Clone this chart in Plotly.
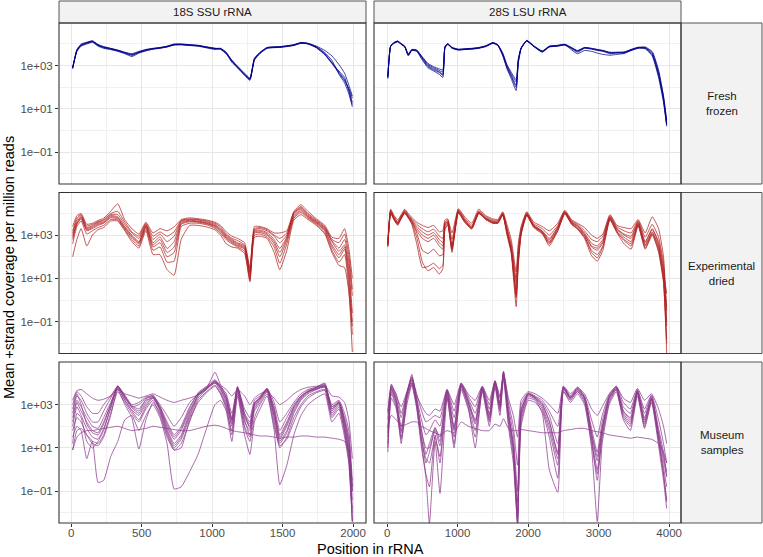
import numpy as np
import plotly.graph_objects as go

# ---------------- data (log10 of mean +strand coverage per million reads) ----------------
x_18s = [10, 40, 70, 110, 150, 190, 230, 280, 330, 380, 430, 480, 530, 580, 630, 680, 730, 780, 840, 900,
         960, 1020, 1060, 1100, 1140, 1180, 1230, 1268, 1300, 1340, 1390, 1440, 1480, 1530, 1580, 1630, 1680,
         1740, 1800, 1850, 1900, 1940, 1970, 1995]
x_28s = [10, 50, 100, 150, 200, 250, 300, 350, 420, 500, 580, 660, 740, 790, 820, 860, 920, 1010, 1100, 1200,
         1300, 1400, 1500, 1570, 1640, 1700, 1760, 1830, 1860, 1900, 1980, 2080, 2200, 2300, 2420, 2520, 2620,
         2700, 2800, 2900, 2980, 3060, 3160, 3260, 3360, 3460, 3560, 3660, 3760, 3850, 3920, 3965]
x_28s_museum = [10, 60, 130, 200, 280, 350, 420, 480, 550, 600, 680, 750, 850, 950, 1050, 1150, 1250, 1350,
                1450, 1530, 1600, 1650, 1720, 1790, 1850, 1900, 2000, 2100, 2200, 2300, 2420, 2500, 2600, 2700,
                2800, 2900, 2980, 3050, 3150, 3250, 3350, 3450, 3550, 3650, 3750, 3850, 3920, 3965]

fresh_18s = [
    [2.9, 3.7, 3.95, 4.05, 4.12, 3.95, 3.85, 3.78, 3.7, 3.6, 3.5, 3.62, 3.72, 3.78, 3.82, 3.88, 3.97, 3.98, 3.95, 3.92, 3.85, 3.8, 3.75, 3.55, 3.25, 2.9, 2.6, 2.38, 3.3, 3.6, 3.82, 3.85, 3.86, 3.9, 3.95, 4.05, 4.02, 3.85, 3.55, 3.15, 2.7, 2.35, 1.9, 1.3],
    [2.85, 3.75, 4.0, 4.08, 4.15, 3.98, 3.88, 3.8, 3.72, 3.62, 3.55, 3.66, 3.75, 3.8, 3.84, 3.9, 4.0, 4.0, 3.97, 3.94, 3.87, 3.8, 3.78, 3.58, 3.25, 2.98, 2.65, 2.42, 3.35, 3.62, 3.84, 3.87, 3.88, 3.92, 3.97, 4.07, 4.03, 3.88, 3.6, 3.25, 2.6, 2.2, 1.7, 1.1],
    [2.95, 3.65, 3.9, 4.0, 4.08, 3.9, 3.8, 3.74, 3.66, 3.55, 3.42, 3.58, 3.68, 3.76, 3.8, 3.86, 3.95, 3.96, 3.93, 3.9, 3.82, 3.75, 3.76, 3.55, 3.15, 2.9, 2.55, 2.32, 3.25, 3.56, 3.8, 3.83, 3.84, 3.88, 3.93, 4.03, 4.0, 3.82, 3.5, 3.1, 2.65, 2.3, 1.95, 1.5],
    [2.9, 3.72, 3.96, 4.06, 4.13, 3.96, 3.86, 3.79, 3.71, 3.6, 3.52, 3.63, 3.73, 3.79, 3.83, 3.89, 3.98, 3.99, 3.96, 3.93, 3.86, 3.79, 3.8, 3.62, 3.22, 2.96, 2.6, 2.4, 3.3, 3.6, 3.83, 3.86, 3.87, 3.91, 3.96, 4.06, 4.03, 3.9, 3.7, 3.45, 3.05, 2.65, 2.1, 1.6],
    [2.88, 3.68, 3.93, 4.03, 4.1, 3.93, 3.83, 3.76, 3.68, 3.58, 3.47, 3.6, 3.7, 3.77, 3.81, 3.87, 3.96, 3.97, 3.94, 3.91, 3.84, 3.77, 3.79, 3.6, 3.18, 2.93, 2.58, 2.36, 3.28, 3.58, 3.81, 3.84, 3.85, 3.89, 3.94, 4.04, 4.01, 3.84, 3.52, 3.12, 2.75, 2.45, 1.8, 1.2],
]
fresh_28s = [
    [2.45, 3.9, 4.05, 4.12, 4.0, 3.88, 3.5, 3.72, 3.7, 3.35, 3.0, 2.85, 2.72, 2.6, 3.85, 4.0, 3.82, 3.74, 3.76, 3.78, 3.82, 3.9, 4.05, 3.95, 3.5, 2.95, 2.55, 2.1, 3.2, 3.8, 4.15, 3.9, 3.65, 3.88, 3.92, 3.97, 3.8, 3.66, 3.82, 3.78, 3.72, 3.68, 3.58, 3.6, 3.6, 3.72, 3.82, 3.8, 3.5, 2.55, 1.45, 0.3],
    [2.5, 3.92, 4.08, 4.14, 4.02, 3.9, 3.55, 3.75, 3.72, 3.4, 3.1, 2.95, 2.85, 2.8, 3.88, 4.02, 3.85, 3.76, 3.78, 3.8, 3.84, 3.92, 4.07, 3.97, 3.58, 3.05, 2.7, 2.35, 3.3, 3.82, 4.17, 3.92, 3.68, 3.9, 3.94, 3.99, 3.83, 3.7, 3.84, 3.8, 3.75, 3.7, 3.62, 3.62, 3.63, 3.75, 3.85, 3.84, 3.6, 2.7, 1.6, 0.5],
    [2.4, 3.88, 4.03, 4.1, 3.98, 3.86, 3.45, 3.7, 3.66, 3.25, 2.9, 2.75, 2.6, 2.45, 3.8, 3.98, 3.8, 3.72, 3.74, 3.76, 3.8, 3.88, 4.03, 3.93, 3.45, 2.85, 2.4, 1.85, 3.1, 3.78, 4.13, 3.88, 3.62, 3.86, 3.9, 3.95, 3.78, 3.62, 3.8, 3.76, 3.7, 3.66, 3.55, 3.58, 3.58, 3.7, 3.8, 3.78, 3.45, 2.45, 1.3, 0.2],
    [2.45, 3.9, 4.05, 4.11, 4.0, 3.87, 3.48, 3.71, 3.68, 3.3, 2.95, 2.8, 2.68, 2.55, 3.84, 3.99, 3.82, 3.73, 3.75, 3.77, 3.81, 3.89, 4.04, 3.94, 3.5, 2.9, 2.5, 2.0, 3.15, 3.79, 4.14, 3.89, 3.64, 3.87, 3.91, 3.96, 3.72, 3.55, 3.7, 3.66, 3.58, 3.52, 3.48, 3.52, 3.56, 3.7, 3.82, 3.86, 3.65, 2.8, 1.55, 0.35],
    [2.5, 3.91, 4.06, 4.13, 4.01, 3.89, 3.52, 3.73, 3.71, 3.38, 3.05, 2.9, 2.78, 2.7, 3.86, 4.01, 3.83, 3.75, 3.77, 3.79, 3.83, 3.91, 4.06, 3.96, 3.55, 3.0, 2.62, 2.25, 3.25, 3.81, 4.16, 3.91, 3.66, 3.89, 3.93, 3.98, 3.82, 3.68, 3.83, 3.79, 3.74, 3.7, 3.6, 3.61, 3.62, 3.74, 3.84, 3.82, 3.55, 2.6, 1.4, 0.25],
]
dried_18s = [
    [3.4, 3.9, 4.0, 3.5, 3.55, 3.68, 3.78, 4.1, 4.45, 3.7, 3.3, 3.05, 3.6, 3.1, 3.3, 3.2, 3.38, 3.72, 3.8, 3.76, 3.7, 3.6, 3.45, 3.15, 2.95, 2.85, 2.65, 1.5, 3.4, 3.4, 3.3, 3.1, 3.1, 3.2, 4.1, 4.4, 4.1, 3.75, 3.45, 2.9, 2.85, 3.3, 2.4, 1.0],
    [3.1, 3.7, 3.9, 3.35, 3.45, 3.6, 3.68, 3.95, 3.95, 3.5, 3.1, 2.85, 3.5, 2.8, 3.05, 2.7, 2.95, 3.65, 3.72, 3.7, 3.62, 3.5, 3.3, 3.0, 2.8, 2.65, 2.5, 1.3, 3.25, 3.3, 3.2, 2.95, 2.65, 3.0, 4.0, 4.28, 3.95, 3.65, 3.35, 2.75, 2.4, 2.8, 1.8, 0.2],
    [3.0, 3.6, 3.85, 3.3, 3.4, 3.55, 3.62, 3.9, 3.85, 3.4, 3.0, 2.7, 3.46, 2.65, 2.92, 2.38, 2.7, 3.6, 3.69, 3.65, 3.58, 3.45, 3.25, 2.95, 2.75, 2.6, 2.45, 1.23, 3.2, 3.23, 3.12, 2.8, 2.38, 2.92, 4.0, 4.23, 3.9, 3.62, 3.3, 2.7, 2.25, 2.55, 1.5, -0.6],
    [2.9, 3.55, 3.8, 3.25, 3.35, 3.5, 3.58, 3.85, 3.8, 3.35, 2.95, 2.65, 3.42, 2.55, 2.8, 2.2, 2.45, 3.55, 3.65, 3.62, 3.55, 3.42, 3.2, 2.9, 2.7, 2.55, 2.4, 1.1, 3.15, 3.18, 3.06, 2.7, 2.2, 2.85, 3.9, 4.18, 3.86, 3.58, 3.25, 2.55, 2.1, 2.45, 1.2, -1.0],
    [2.8, 3.5, 3.75, 3.2, 3.3, 3.45, 3.55, 3.8, 3.75, 3.3, 2.9, 2.6, 3.38, 2.45, 2.65, 2.0, 2.2, 3.5, 3.62, 3.6, 3.52, 3.38, 3.15, 2.85, 2.65, 2.5, 2.35, 1.0, 3.1, 3.12, 3.0, 2.6, 2.0, 2.75, 3.85, 4.12, 3.82, 3.55, 3.2, 2.45, 1.95, 2.35, 0.9, -1.6],
    [2.6, 3.4, 3.65, 3.05, 3.2, 3.35, 3.45, 3.72, 3.7, 3.25, 2.8, 2.5, 3.3, 2.3, 2.45, 1.75, 1.8, 3.4, 3.55, 3.55, 3.48, 3.32, 3.08, 2.78, 2.6, 2.45, 2.25, 0.9, 3.0, 3.05, 2.92, 2.45, 1.7, 2.6, 3.78, 4.05, 3.78, 3.5, 3.12, 2.3, 1.75, 2.1, 0.5, -2.4],
    [2.0, 2.8, 3.3, 2.5, 3.0, 3.25, 3.35, 3.65, 3.65, 3.2, 2.7, 2.4, 3.2, 2.1, 2.1, 1.4, 1.15, 2.8, 3.45, 3.45, 3.38, 3.25, 3.0, 2.6, 2.45, 2.4, 2.15, 0.85, 2.9, 2.95, 2.85, 2.2, 1.4, 2.3, 3.7, 3.95, 3.72, 3.45, 3.05, 2.2, 1.6, 1.5, 0.4, -1.2],
    [3.2, 3.8, 3.95, 3.42, 3.5, 3.62, 3.72, 4.0, 4.1, 3.6, 3.15, 2.95, 3.55, 2.95, 3.15, 2.95, 3.15, 3.68, 3.75, 3.72, 3.66, 3.55, 3.38, 3.05, 2.85, 2.75, 2.55, 1.4, 3.3, 3.35, 3.25, 3.0, 2.85, 3.1, 4.05, 4.32, 4.0, 3.7, 3.38, 2.8, 2.65, 3.05, 2.1, 0.5],
]
dried_28s = [
    [2.7, 4.2, 3.9, 3.7, 3.95, 4.2, 4.0, 3.82, 3.6, 3.45, 3.35, 3.45, 3.15, 3.2, 3.7, 3.75, 3.1, 4.22, 3.85, 3.55, 4.2, 3.9, 3.75, 3.72, 4.08, 3.5, 2.8, 1.3, 2.6, 3.4, 4.08, 3.6, 3.4, 3.2, 3.55, 4.15, 3.7, 3.55, 3.35, 3.0, 2.85, 3.05, 3.95, 3.45, 3.35, 3.3, 3.72, 3.1, 3.85, 3.3, 2.0, -0.5],
    [2.6, 4.15, 3.85, 3.62, 3.9, 4.15, 3.95, 3.75, 3.5, 3.3, 3.15, 3.28, 2.95, 2.85, 3.6, 3.7, 2.8, 4.18, 3.78, 3.45, 4.12, 3.85, 3.7, 3.67, 4.04, 3.35, 2.6, 1.0, 2.4, 3.3, 4.04, 3.52, 3.3, 3.0, 3.45, 4.1, 3.65, 3.5, 3.2, 2.8, 2.7, 2.95, 3.9, 3.38, 3.2, 3.1, 3.67, 2.9, 3.5, 2.9, 1.7, -1.2],
    [2.55, 4.1, 3.8, 3.55, 3.85, 4.1, 3.9, 3.7, 3.4, 3.15, 3.0, 3.12, 2.8, 2.65, 3.5, 3.65, 2.5, 4.15, 3.7, 3.38, 4.08, 3.8, 3.65, 3.62, 4.0, 3.2, 2.4, 0.5, 2.0, 3.2, 4.0, 3.45, 3.2, 2.85, 3.38, 4.08, 3.6, 3.45, 3.1, 2.62, 2.5, 2.8, 3.85, 3.3, 3.05, 2.95, 3.62, 2.7, 3.3, 2.6, 1.3, 0.3],
    [2.5, 4.05, 3.75, 3.5, 3.8, 4.05, 3.85, 3.65, 3.3, 3.0, 2.85, 3.0, 2.65, 2.5, 3.45, 3.6, 2.35, 4.1, 3.65, 3.32, 4.04, 3.76, 3.6, 3.58, 3.96, 3.1, 2.3, 0.2, 1.8, 3.1, 3.95, 3.4, 3.12, 2.7, 3.3, 4.05, 3.55, 3.38, 3.0, 2.45, 2.3, 2.65, 3.8, 3.22, 2.9, 2.7, 3.55, 2.55, 3.15, 2.4, 1.1, -0.3],
    [2.45, 4.0, 3.7, 3.45, 3.75, 4.0, 3.8, 3.6, 3.2, 2.85, 2.7, 2.85, 2.5, 2.35, 3.4, 3.55, 2.2, 4.05, 3.6, 3.28, 4.0, 3.72, 3.55, 3.55, 3.92, 3.0, 2.15, -0.3, 1.6, 3.0, 3.9, 3.35, 3.05, 2.6, 3.2, 4.0, 3.5, 3.3, 2.9, 2.3, 2.1, 2.5, 3.75, 3.15, 2.75, 2.5, 3.48, 2.4, 3.05, 2.2, 0.8, -2.0],
    [2.5, 4.0, 3.7, 3.5, 3.78, 4.02, 3.8, 3.5, 2.6, 1.5, 1.55, 1.7, 1.45, 1.6, 3.3, 3.45, 2.3, 4.02, 3.6, 3.3, 4.0, 3.72, 3.55, 3.55, 3.92, 3.1, 2.25, 0.1, 1.7, 3.05, 3.92, 3.38, 3.1, 2.5, 3.2, 3.98, 3.48, 3.28, 2.85, 2.05, 1.8, 2.3, 3.7, 3.1, 2.6, 2.35, 3.42, 2.35, 3.0, 2.3, 0.9, -2.47],
    [2.55, 4.05, 3.72, 3.52, 3.82, 4.05, 3.82, 3.55, 2.9, 1.75, 1.35, 1.5, 1.2, 1.45, 3.25, 3.5, 2.4, 4.05, 3.65, 3.32, 4.02, 3.75, 3.58, 3.58, 3.95, 3.15, 2.3, 0.3, 1.9, 3.1, 3.95, 3.42, 3.15, 2.65, 3.25, 4.02, 3.52, 3.32, 2.95, 2.2, 1.95, 2.45, 3.75, 3.15, 2.8, 2.6, 3.5, 2.5, 3.1, 2.5, 1.0, -1.8],
    [2.6, 4.1, 3.78, 3.58, 3.88, 4.1, 3.88, 3.65, 3.1, 2.3, 2.15, 2.35, 2.05, 2.1, 3.55, 3.6, 2.55, 4.1, 3.72, 3.36, 4.06, 3.78, 3.62, 3.6, 3.98, 3.25, 2.45, 0.8, 2.2, 3.15, 3.98, 3.45, 3.18, 2.78, 3.35, 4.05, 3.58, 3.42, 3.05, 2.5, 2.4, 2.7, 3.82, 3.28, 3.0, 2.85, 3.58, 2.65, 3.25, 2.7, 1.5, -1.0],
]
museum_18s = [
    [3.2, 3.65, 3.7, 3.5, 3.3, 3.2, 3.25, 3.4, 3.7, 3.5, 3.4, 3.3, 3.4, 3.5, 3.35, 3.2, 3.1, 3.2, 3.3, 3.45, 3.7, 4.1, 3.9, 3.7, 3.4, 3.7, 3.4, 3.0, 3.3, 3.5, 3.6, 3.3, 3.0, 3.2, 3.5, 3.7, 3.8, 3.85, 3.9, 3.4, 3.35, 3.1, 2.3, 0.5],
    [2.6, 3.4, 3.2, 2.6, 2.2, 2.2, 2.7, 3.3, 3.85, 3.4, 2.9, 3.0, 3.3, 3.35, 2.9, 2.2, 1.6, 2.0, 2.9, 3.5, 3.75, 4.0, 3.8, 3.4, 2.4, 3.75, 2.6, 2.2, 3.1, 3.3, 3.7, 2.9, 1.8, 2.4, 3.0, 3.4, 3.6, 3.75, 3.8, 2.9, 3.1, 2.4, 1.5, -1.0],
    [2.2, 3.1, 2.7, 2.2, 1.8, 1.7, 2.2, 3.0, 3.88, 3.3, 2.85, 2.6, 3.1, 3.4, 2.8, 1.9, 1.2, 1.6, 2.6, 3.45, 3.8, 4.05, 3.7, 3.2, 2.2, 3.8, 2.4, 2.0, 3.0, 3.3, 3.72, 2.6, 1.4, 2.0, 2.8, 3.3, 3.6, 3.75, 3.85, 2.7, 3.1, 2.1, 1.0, -1.4],
    [2.0, 2.9, 2.5, 1.9, 1.5, 1.4, 1.9, 2.8, 3.8, 3.2, 2.7, 2.3, 2.9, 3.3, 2.7, 1.7, 1.0, 1.4, 2.4, 3.3, 3.7, 4.0, 3.6, 3.0, 2.0, 3.7, 2.2, 1.8, 2.8, 3.2, 3.65, 2.4, 1.2, 1.7, 2.6, 3.2, 3.5, 3.7, 3.8, 2.6, 3.0, 1.9, 0.8, -2.4],
    [1.5, 2.0, 1.8, 0.5, 1.3, 1.2, 1.6, 2.6, 3.6, 3.1, 2.6, 2.2, 2.8, 3.2, 2.5, 1.5, 0.9, 1.2, 2.2, 3.2, 3.6, 3.9, 3.5, 2.8, 1.8, 3.6, 2.0, 1.5, 2.7, 3.1, 3.6, 2.2, 1.0, 1.5, 2.4, 3.0, 3.4, 3.6, 3.7, 2.5, 2.9, 1.8, 0.6, -1.8],
    [0.9, 1.8, 1.9, 1.6, 1.3, -0.6, -0.5, 0.6, 1.3, 2.3, 2.5, 1.8, 2.5, 3.0, 2.4, 1.2, -0.9, -0.8, -0.1, 0.7, 1.9, 3.0, 3.2, 2.7, 1.3, 3.4, 1.6, 0.7, 2.2, 2.8, 3.4, 1.8, -0.7, 0.2, 1.6, 2.5, 3.0, 3.3, 3.5, 2.2, 2.6, 1.5, 0.3, -2.4],
    [0.9, 1.5, 1.7, 1.8, 1.8, 1.85, 1.9, 1.95, 2.0, 1.9, 1.8, 1.85, 1.9, 2.0, 1.95, 1.9, 1.85, 1.8, 1.8, 1.9, 2.0, 2.05, 2.0, 1.9, 1.8, 1.75, 1.7, 1.65, 1.6, 1.55, 1.55, 1.5, 1.45, 1.5, 1.5, 1.55, 1.55, 1.5, 1.5, 1.45, 1.4, 1.3, 0.9, -0.8],
    [1.8, 2.4, 2.2, 1.6, 1.2, 1.1, 1.5, 2.5, 3.7, 3.0, 2.4, 0.95, 2.3, 3.1, 2.6, 1.6, 0.9, 1.0, 2.3, 3.1, 3.55, 3.85, 3.5, 2.9, 1.6, 3.5, 1.9, 1.3, 2.4, 3.0, 3.5, 2.0, 1.1, 1.4, 2.2, 2.9, 3.3, 3.55, 3.65, 2.4, 2.8, 1.7, 0.4, -2.4],
    [3.0, 3.6, 3.4, 2.9, 2.6, 2.6, 3.0, 3.4, 3.85, 3.45, 3.0, 3.1, 3.35, 3.4, 3.0, 2.5, 2.0, 2.4, 3.1, 3.5, 3.8, 4.05, 3.85, 3.5, 2.6, 3.8, 2.8, 2.4, 3.2, 3.4, 3.75, 3.1, 2.2, 2.6, 3.1, 3.5, 3.7, 3.8, 3.85, 3.0, 3.2, 2.6, 1.8, -0.5],
    [2.4, 3.2, 2.9, 2.4, 2.0, 1.9, 2.4, 3.1, 3.8, 3.35, 2.9, 2.7, 3.2, 3.3, 2.85, 2.0, 1.4, 1.8, 2.7, 3.4, 3.75, 4.5, 3.9, 3.3, 2.3, 3.75, 2.5, 2.1, 3.0, 3.3, 3.7, 2.7, 1.6, 2.2, 2.9, 3.35, 3.6, 3.7, 3.9, 2.8, 3.1, 2.2, 1.2, -1.0],
    [1.2, 2.6, 2.4, 1.3, 1.0, 1.3, 1.8, 2.9, 3.75, 3.2, 2.75, 2.5, 3.0, 3.35, 2.75, 1.8, 1.1, 1.5, 2.5, 3.4, 3.75, 4.1, 3.75, 3.1, 2.1, 3.7, 2.3, 1.6, 2.9, 3.25, 3.7, 2.5, 1.3, 1.8, 2.7, 3.25, 3.55, 3.8, 4.0, 2.8, 3.05, 2.0, 0.7, -2.0],
    [2.8, 3.5, 3.0, 2.1, 1.7, 1.6, 2.1, 3.0, 3.85, 3.35, 2.95, 2.8, 3.25, 3.45, 2.9, 2.1, 1.5, 1.9, 2.8, 3.55, 3.85, 4.15, 3.8, 3.3, 2.3, 3.85, 2.6, 1.9, 3.05, 3.35, 3.75, 2.8, 1.5, 2.1, 2.9, 3.4, 3.65, 3.8, 3.95, 2.9, 3.15, 2.3, 1.3, -0.8],
]
museum_28s = [
    [2.6, 3.95, 3.4, 2.9, 3.6, 4.3, 3.4, 3.0, 2.6, 2.5, 2.8, 2.7, 3.7, 3.0, 4.0, 3.5, 3.2, 3.85, 3.2, 4.1, 3.4, 4.5, 3.3, 2.5, 1.5, 3.2, 3.6, 3.5, 3.3, 3.0, 2.6, 3.85, 3.5, 3.8, 3.5, 2.8, 2.5, 2.9, 3.5, 3.85, 3.3, 3.1, 3.75, 3.2, 3.5, 2.8, 2.0, 1.2],
    [2.3, 3.9, 3.3, 2.4, 3.5, 4.2, 3.3, 2.4, 1.6, 1.8, 2.3, 2.0, 3.65, 2.4, 3.95, 3.3, 2.6, 3.8, 2.8, 4.05, 3.1, 4.4, 2.9, 1.6, -1.0, 2.8, 3.5, 3.35, 3.1, 2.5, 1.2, 3.8, 3.35, 3.75, 3.35, 1.9, 0.8, 2.2, 3.4, 3.8, 2.9, 2.6, 3.65, 2.6, 3.4, 1.9, 0.8, -0.3],
    [1.9, 3.8, 3.2, 2.0, 3.5, 4.15, 3.2, 2.0, 0.7, 1.2, 1.95, 1.3, 3.65, 2.0, 3.95, 3.2, 2.3, 3.8, 2.6, 4.1, 3.0, 4.45, 2.7, 1.2, -1.9, 2.7, 3.5, 3.34, 3.03, 2.26, 0.7, 3.8, 3.34, 3.72, 3.34, 1.65, 0.4, 1.95, 3.34, 3.8, 2.72, 2.4, 3.65, 2.4, 3.34, 1.65, 0.4, -0.35],
    [1.5, 3.7, 3.1, 1.7, 3.4, 4.1, 3.1, 1.7, 0.3, 0.8, 1.8, 1.1, 3.6, 1.8, 3.9, 3.1, 2.1, 3.75, 2.4, 4.0, 2.9, 4.4, 2.5, 1.0, -2.5, 2.5, 3.45, 3.3, 2.9, 2.0, 0.5, 3.75, 3.3, 3.7, 3.25, 1.5, 0.0, 1.8, 3.3, 3.75, 2.6, 2.2, 3.6, 2.2, 3.3, 1.5, 0.1, -0.8],
    [0.8, 3.3, 2.8, 1.4, 3.0, 3.9, 2.8, 1.2, -0.35, -2.5, 1.3, -1.1, 3.3, 1.2, 3.7, 2.8, 1.5, 3.6, 2.0, 3.8, 2.5, 4.2, 2.0, 0.3, -2.5, 2.0, 3.2, 3.1, 2.7, 1.5, -0.4, 3.6, 3.1, 3.5, 3.0, 1.0, -2.4, 1.2, 3.0, 3.6, 2.3, 1.8, 3.4, 1.9, 3.1, 1.1, -0.5, -1.8],
    [2.0, 2.5, 2.3, 2.0, 2.1, 2.2, 2.2, 2.0, 1.9, 1.8, 1.7, 1.6, 1.8, 1.7, 2.2, 2.0, 1.9, 1.8, 1.8, 2.1, 2.0, 2.35, 1.9, 1.8, 1.8, 1.85, 1.8, 1.75, 1.7, 1.7, 1.7, 1.8, 1.85, 1.9, 1.9, 1.8, 1.75, 1.7, 1.6, 1.55, 1.5, 1.45, 1.5, 1.45, 1.4, 1.2, 0.8, 0.3],
    [1.2, 3.5, 2.9, 1.5, 3.2, 4.0, 2.9, 1.5, 0.5, 0.3, 1.5, 0.6, 3.4, 1.0, 3.8, 2.9, 1.0, 3.7, 2.2, 3.9, 2.7, 4.3, 2.2, 0.6, -2.2, 2.2, 3.3, 3.2, 2.6, 0.0, -1.05, 3.6, 3.2, 3.6, 3.1, 1.2, -0.2, 1.5, 3.1, 3.7, 2.4, 2.0, 3.5, 2.0, 3.2, 1.3, -0.2, -1.4],
    [2.7, 3.85, 3.5, 2.6, 3.55, 4.25, 3.5, 2.8, 2.2, 2.3, 2.5, 2.4, 3.7, 2.7, 4.0, 3.4, 2.9, 3.85, 3.0, 4.1, 3.3, 4.5, 3.1, 2.0, 0.2, 3.0, 3.55, 3.4, 3.2, 2.7, 2.0, 3.85, 3.4, 3.8, 3.4, 2.3, 1.5, 2.5, 3.45, 3.85, 3.1, 2.8, 3.7, 2.8, 3.45, 2.3, 1.2, 0.3],
    [1.7, 3.75, 3.15, 1.8, 3.45, 4.4, 3.15, 1.9, 1.0, 1.0, 1.9, 1.5, 3.6, 1.9, 3.9, 3.15, 2.2, 3.75, 2.5, 4.05, 2.95, 4.55, 2.6, 1.1, -1.5, 2.6, 3.5, 3.3, 3.0, 2.2, 0.8, 3.75, 3.3, 3.65, 3.3, 1.7, 0.6, 1.9, 3.3, 3.75, 2.7, 2.3, 3.6, 2.3, 3.3, 1.7, 0.6, -0.1],
    [1.0, 3.6, 3.0, 1.2, 3.3, 4.0, 3.0, 1.4, -0.2, -0.8, 1.6, 0.3, 3.5, 1.5, 3.85, 3.0, 1.8, 3.7, 2.3, 3.95, 2.8, 4.35, 2.4, 0.8, -2.5, 2.4, 3.4, 3.25, 2.8, 1.8, 0.2, 3.7, 3.25, 3.6, 3.2, 1.4, -0.5, 1.6, 3.2, 3.7, 2.5, 2.1, 3.55, 2.1, 3.25, 1.4, -0.2, -1.5],
]

col_labels = ["18S SSU rRNA", "28S LSU rRNA"]
row_labels = ["Fresh<br>frozen", "Experimental<br>dried", "Museum<br>samples"]
y_tick_vals = [0.1, 10, 1000]
y_tick_text = ["1e\u221201", "1e+01", "1e+03"]
x_ticks_18s = [0, 500, 1000, 1500, 2000]
x_ticks_28s = [0, 1000, 2000, 3000, 4000]

# ---------------- layout constants ----------------
W, H = 763, 557
FONT = "Liberation Sans, Arial, Helvetica, sans-serif"
col_px = [(59, 366), (374, 681)]
row_px = [(23, 184), (192.5, 353.5), (362, 523)]
strip_top = (1, 23)
strip_right = (681, 762)
colors = ["#00008B", "#B22222", "#8B3A8B"]

def fx(p):
    return p / W

def fy(p):
    return 1 - p / H

panels = [
    (0, 0, x_18s, fresh_18s), (0, 1, x_28s, fresh_28s),
    (1, 0, x_18s, dried_18s), (1, 1, x_28s, dried_28s),
    (2, 0, x_18s, museum_18s), (2, 1, x_28s_museum, museum_28s),
]

fig = go.Figure()
for r, c, xs, lines in panels:
    k = r * 2 + c + 1
    for ln in lines:
        assert len(ln) == len(xs), (r, c, len(ln), len(xs))
        fig.add_trace(go.Scatter(
            x=xs, y=np.power(10.0, np.array(ln)), mode="lines",
            line=dict(color=colors[r], width=0.75, shape="spline", smoothing=0.45),
            xaxis="x" if k == 1 else f"x{k}", yaxis="y" if k == 1 else f"y{k}",
            showlegend=False, hoverinfo="skip"))

grid_major = "#E6E6E6"
grid_minor = "#F0F0F0"
layout = dict(
    width=W, height=H, margin=dict(l=0, r=0, t=0, b=0),
    paper_bgcolor="white", plot_bgcolor="white",
    font=dict(family=FONT, color="#4D4D4D", size=11.5),
    showlegend=False,
)
for r in range(3):
    for c in range(2):
        k = r * 2 + c + 1
        xr = [-87, 2092] if c == 0 else [-186, 4168]
        xt = x_ticks_18s if c == 0 else x_ticks_28s
        xminor = [250, 750, 1250, 1750] if c == 0 else [500, 1500, 2500, 3500]
        layout["xaxis" if k == 1 else f"xaxis{k}"] = dict(
            domain=[fx(col_px[c][0]), fx(col_px[c][1])], range=xr,
            anchor="y" if k == 1 else f"y{k}",
            tickmode="array", tickvals=xt, ticktext=[str(v) for v in xt],
            showticklabels=(r == 2), ticks="outside" if r == 2 else "", ticklen=3,
            ticklabelstandoff=-4,
            tickcolor="#333333", tickfont=dict(size=11.5, color="#4D4D4D"),
            showgrid=True, gridcolor=grid_major, gridwidth=1, zeroline=False, showline=False,
            minor=dict(tickmode="array", tickvals=xminor, showgrid=True, gridcolor=grid_minor, gridwidth=0.6, ticks=""),
        )
        layout["yaxis" if k == 1 else f"yaxis{k}"] = dict(
            type="log", domain=[fy(row_px[r][1]), fy(row_px[r][0])], range=[-2.47, 4.97],
            anchor="x" if k == 1 else f"x{k}",
            tickmode="array", tickvals=y_tick_vals, ticktext=y_tick_text,
            showticklabels=(c == 0), ticks="outside" if c == 0 else "", ticklen=3,
            tickcolor="#333333", tickfont=dict(size=11.5, color="#4D4D4D"),
            showgrid=True, gridcolor=grid_major, gridwidth=1, zeroline=False, showline=False,
            minor=dict(tickmode="array", tickvals=[0.01, 1, 100, 10000], showgrid=True, gridcolor=grid_minor, gridwidth=0.6, ticks=""),
        )
fig.update_layout(**layout)

shapes = []
annotations = []
for c in range(2):
    shapes.append(dict(type="rect", xref="paper", yref="paper",
                       x0=fx(col_px[c][0]), x1=fx(col_px[c][1]), y0=fy(strip_top[1]), y1=fy(strip_top[0]),
                       fillcolor="#F2F2F2", line=dict(color="#555555", width=1), layer="above"))
    annotations.append(dict(xref="paper", yref="paper", x=fx((col_px[c][0] + col_px[c][1]) / 2),
                            y=fy((strip_top[0] + strip_top[1]) / 2), text=col_labels[c], showarrow=False,
                            font=dict(size=11.5, color="#1A1A1A", family=FONT), xanchor="center", yanchor="middle"))
for r in range(3):
    shapes.append(dict(type="rect", xref="paper", yref="paper",
                       x0=fx(strip_right[0]), x1=fx(strip_right[1]), y0=fy(row_px[r][1]), y1=fy(row_px[r][0]),
                       fillcolor="#F2F2F2", line=dict(color="#555555", width=1), layer="above"))
    annotations.append(dict(xref="paper", yref="paper", x=fx((strip_right[0] + strip_right[1]) / 2),
                            y=fy((row_px[r][0] + row_px[r][1]) / 2), text=row_labels[r], showarrow=False,
                            font=dict(size=11.5, color="#1A1A1A", family=FONT), xanchor="center", yanchor="middle"))
for r in range(3):
    for c in range(2):
        shapes.append(dict(type="rect", xref="paper", yref="paper",
                           x0=fx(col_px[c][0]), x1=fx(col_px[c][1]), y0=fy(row_px[r][1]), y1=fy(row_px[r][0]),
                           fillcolor="rgba(0,0,0,0)", line=dict(color="#333333", width=1.1), layer="above"))
annotations.append(dict(xref="paper", yref="paper", x=fx(370), y=fy(549), text="Position in rRNA",
                        showarrow=False, font=dict(size=14.5, color="black", family=FONT),
                        xanchor="center", yanchor="middle"))
annotations.append(dict(xref="paper", yref="paper", x=fx(9), y=fy(268),
                        text="Mean +strand coverage per million reads", textangle=-90,
                        showarrow=False, font=dict(size=14.5, color="black", family=FONT),
                        xanchor="center", yanchor="middle"))
fig.update_layout(shapes=shapes, annotations=annotations)

fig.write_html(
    "out.html",
    config={"displayModeBar": False},
    post_script="document.body.style.margin='0';document.body.style.overflow='hidden';",
)
